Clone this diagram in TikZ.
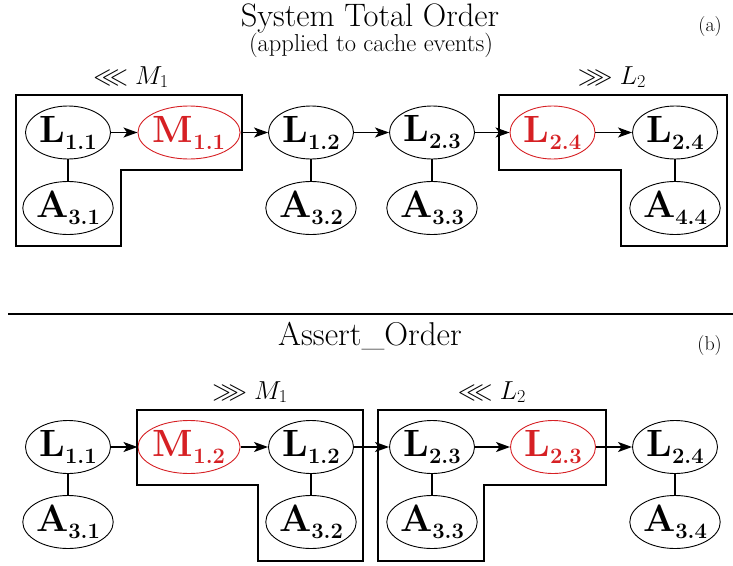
\RequirePackage{fix-cm}
\documentclass[tikz,border=0pt]{standalone}
\usepackage{amssymb}
\usetikzlibrary{shapes.geometric,arrows.meta}
\definecolor{evred}{RGB}{214,32,36}
\newcommand{\evlab}[2]{\fontsize{38}{44}\selectfont\textbf{#1}\raisebox{-7pt}{\fontsize{22}{26}\selectfont\textbf{#2}}}
\tikzset{
  ev/.style={ellipse,draw,line width=0.9pt,minimum width=85pt,minimum height=53pt,inner sep=0pt},
  evr/.style={ev,draw=evred,text=evred},
  arr/.style={line width=1.5pt,-{Stealth[length=14pt,width=10pt,inset=3.5pt]}},
  lnk/.style={line width=1.3pt},
  grp/.style={line width=1.4pt},
  ord/.style={anchor=base,font=\fontsize{26}{30}\selectfont},
}
\begin{document}
\begin{tikzpicture}[x=1pt,y=-1pt]
\useasboundingbox (0,0) rectangle (733,565);
% titles
\node[anchor=base,font=\fontsize{32.5}{38}\selectfont] (t1) at (370,26.5) {System Total Order};
\node[anchor=base,font=\fontsize{24.5}{29}\selectfont] (t2) at (371,51.5) {(applied to cache events)};
\node[anchor=east,font=\fontsize{20}{24}\selectfont,inner sep=0pt] (ta) at (722,27) {(a)};
\draw[line width=1.5pt] (8,314) coordinate (s1) -- (733,314) coordinate (s2);
\node[anchor=base,font=\fontsize{33}{38}\selectfont] (t3) at (370,345) {Assert\_Order};
\node[anchor=east,font=\fontsize{20}{24}\selectfont,inner sep=0pt] (tb) at (722,346) {(b)};

% (a) nodes
\node[ev]  (aL11) at (68,132.5)  {\evlab{L}{1.1}};
\node[evr] (aM11) at (189,132.5) {\evlab{M}{1.1}};
\node[ev]  (aL12) at (311,132.5) {\evlab{L}{1.2}};
\node[ev]  (aL23) at (432,132.5) {\evlab{L}{2.3}};
\node[evr] (aL24r) at (552.5,132.5) {\evlab{L}{2.4}};
\node[ev]  (aL24) at (675,132.5) {\evlab{L}{2.4}};
\node[ev]  (aA31) at (68,208)  {\evlab{A}{3.1}};
\node[ev]  (aA32) at (311,208) {\evlab{A}{3.2}};
\node[ev]  (aA33) at (432,208) {\evlab{A}{3.3}};
\node[ev]  (aA44) at (675,208) {\evlab{A}{4.4}};
\draw[arr] (aL11) -- (aM11);
\draw[arr] (aM11) -- (aL12);
\draw[arr] (aL12) -- (aL23);
\draw[arr] (aL23) -- (aL24r);
\draw[arr] (aL24r) -- (aL24);
\draw[lnk] (aL11) -- (aA31);
\draw[lnk] (aL12) -- (aA32);
\draw[lnk] (aL23) -- (aA33);
\draw[lnk] (aL24) -- (aA44);
\draw[grp] (16,95) -- (242,95) -- (242,170) -- (121,170) -- (121,246) -- (16,246) -- cycle;
\draw[grp] (499,95) -- (727,95) -- (727,246) -- (621,246) -- (621,170) -- (499,170) -- cycle;
\node[ord] (ga1) at (131,84) {$\lll M_1$};
\node[ord] (ga2) at (612,84) {$\ggg L_2$};

% (b) nodes
\node[ev]  (bL11) at (68,447)  {\evlab{L}{1.1}};
\node[evr] (bM12) at (189,447) {\evlab{M}{1.2}};
\node[ev]  (bL12) at (311,447) {\evlab{L}{1.2}};
\node[ev]  (bL23) at (432,447) {\evlab{L}{2.3}};
\node[evr] (bL23r) at (553,447) {\evlab{L}{2.3}};
\node[ev]  (bL24) at (675,447) {\evlab{L}{2.4}};
\node[ev]  (bA31) at (68,522)  {\evlab{A}{3.1}};
\node[ev]  (bA32) at (311,522) {\evlab{A}{3.2}};
\node[ev]  (bA33) at (432,522) {\evlab{A}{3.3}};
\node[ev]  (bA34) at (675,522) {\evlab{A}{3.4}};
\draw[arr] (bL11) -- (bM12);
\draw[arr] (bM12) -- (bL12);
\draw[arr] (bL12) -- (bL23);
\draw[arr] (bL23) -- (bL23r);
\draw[arr] (bL23r) -- (bL24);
\draw[lnk] (bL11) -- (bA31);
\draw[lnk] (bL12) -- (bA32);
\draw[lnk] (bL23) -- (bA33);
\draw[lnk] (bL24) -- (bA34);
\draw[grp] (137,410) -- (363,410) -- (363,561) -- (258,561) -- (258,485) -- (137,485) -- cycle;
\draw[grp] (378,410) -- (606,410) -- (606,485) -- (484,485) -- (484,561) -- (378,561) -- cycle;
\node[ord] (gb1) at (250,399) {$\ggg M_1$};
\node[ord] (gb2) at (492,399) {$\lll L_2$};
\end{tikzpicture}
\end{document}
